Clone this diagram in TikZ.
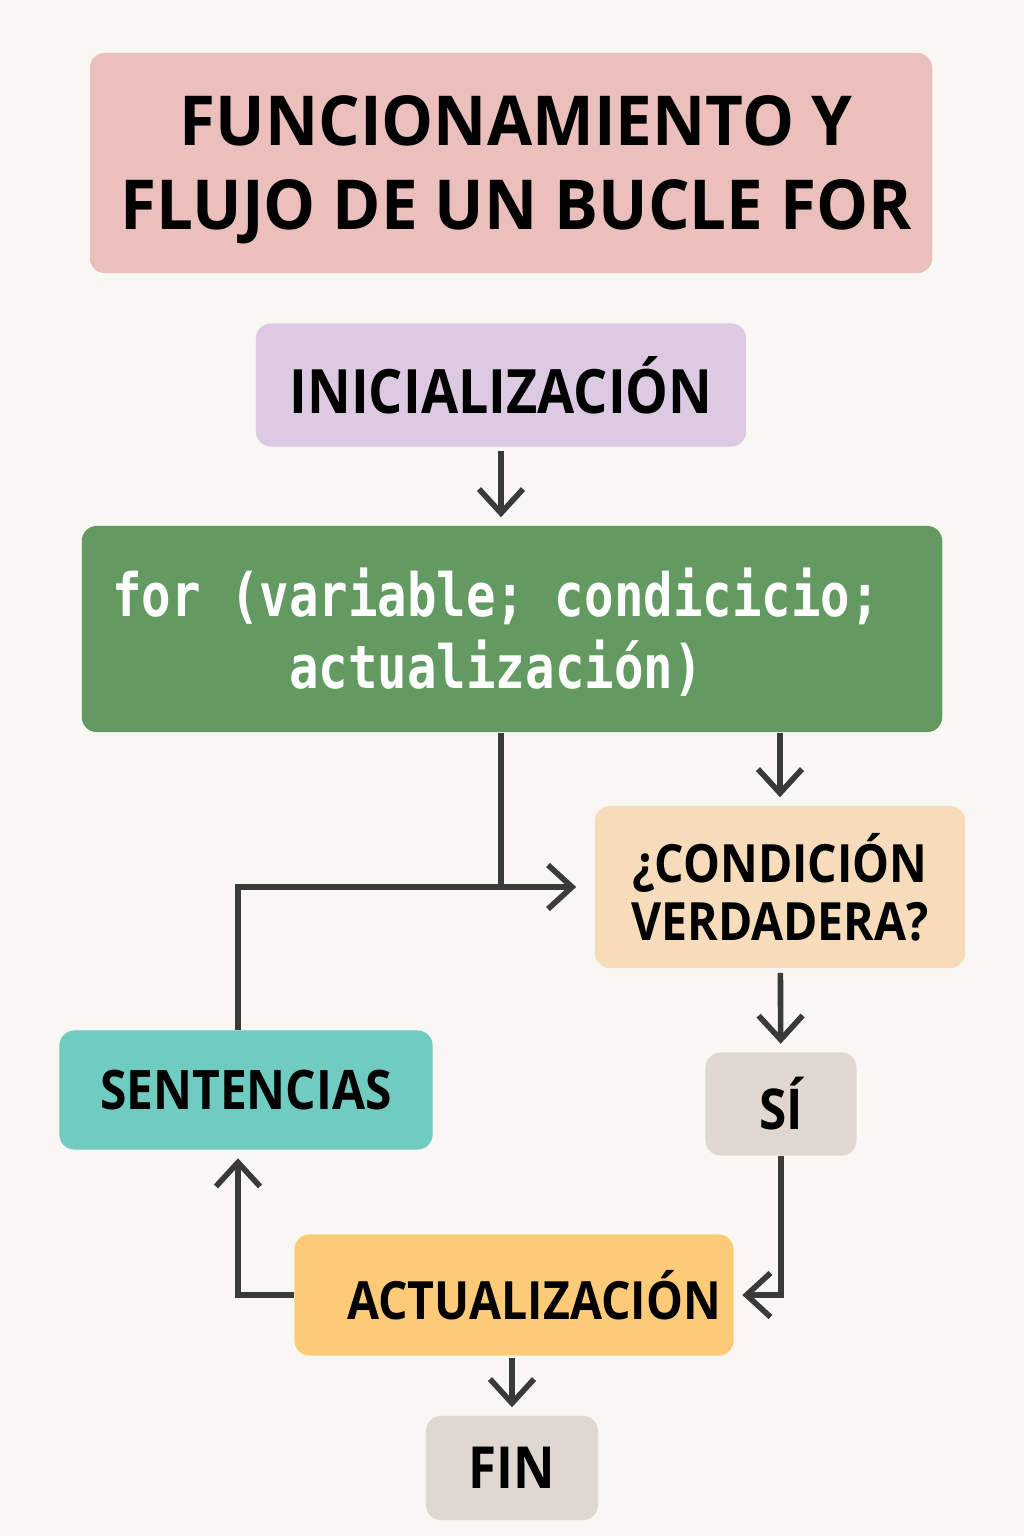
\documentclass[tikz,border=0pt]{standalone}
\usepackage{fontspec}
\setmainfont{Open Sans}
\newfontfamily\headfont[FakeStretch=0.95]{Open Sans}
\newfontfamily\stepfont[FakeStretch=0.88]{Open Sans}
\newfontfamily\codefont[FakeStretch=0.82]{DejaVu Sans Mono}
\usetikzlibrary{positioning,arrows.meta}
\definecolor{forpaper}{HTML}{F9F7F3}
\definecolor{forink}{HTML}{3A3A3A}
\definecolor{fortitle}{HTML}{EBBFBC}
\definecolor{forinit}{HTML}{DCC9E2}
\definecolor{forgreen}{HTML}{639A62}
\definecolor{forcond}{HTML}{F6DCBB}
\definecolor{forsent}{HTML}{70CBC0}
\definecolor{forsi}{HTML}{E0D8D0}
\definecolor{foract}{HTML}{FDCA78}
\definecolor{forfin}{HTML}{DFD7D2}
\tikzset{
  box/.style    ={rounded corners=1.5mm, inner sep=0pt, align=center, text=black},
  titlebox/.style={box, fill=fortitle, font=\headfont\fontsize{19.6}{23.9}\selectfont\bfseries},
  stepbox/.style={box, font=\stepfont\fontsize{15}{16.5}\selectfont\bfseries},
  codebox/.style={box, fill=forgreen, text=white,
                  font=\codefont\fontsize{17}{20.5}\selectfont\bfseries},
  wire/.style   ={draw=forink, line width=1.6pt},
  flow/.style   ={wire, -{Straight Barb[length=2.4mm, width=4.4mm, line width=1.6pt]},
                  shorten >=0.8mm},
}
\begin{document}
\begin{tikzpicture}[x=0.01cm, y=-0.01cm]
  \fill[forpaper] (0,0) rectangle (1024,1536);
  \useasboundingbox (0,0) rectangle (1024,1536);

  % boxes
  \node[titlebox, minimum width=8.42cm, minimum height=2.2cm] (title) at (511,163) {};
  \node[titlebox, fill=none] (titletext) at (516,170) {FUNCIONAMIENTO Y\\FLUJO DE UN BUCLE FOR};
  \node[stepbox, fill=forinit, minimum width=4.9cm, minimum height=1.23cm,
        font=\stepfont\fontsize{17.4}{20}\selectfont\bfseries] (init) at (501,385) {INICIALIZACIÓN};
  \node[codebox, minimum width=8.6cm, minimum height=2.06cm] (forbox) at (512,629) {};
  \node[codebox, fill=none] (fortext) at (496,632) {for (variable; condicicio;\\actualización)};
  \node[stepbox, fill=forcond, minimum width=3.7cm, minimum height=1.62cm] (cond) at (780,887)
    {¿CONDICIÓN\\VERDADERA?};
  \node[stepbox, fill=forsent, minimum width=3.73cm, minimum height=1.19cm,
        font=\stepfont\fontsize{15.5}{17}\selectfont\bfseries] (sent) at (246,1090) {SENTENCIAS};
  \node[stepbox, fill=forsi, minimum width=1.51cm, minimum height=1.03cm,
        font=\stepfont\fontsize{16}{17}\selectfont\bfseries] (si) at (781,1104) {SÍ};
  \node[stepbox, fill=foract, minimum width=4.39cm, minimum height=1.21cm] (act) at (514,1295)
    {\hspace*{4mm}ACTUALIZACIÓN};
  \node[stepbox, fill=forfin, minimum width=1.72cm, minimum height=1.04cm,
        font=\stepfont\fontsize{16.5}{18}\selectfont\bfseries] (fin) at (512,1468) {FIN};

  % connectors
  \draw[flow, shorten <=0.4mm] (init.south) -- (init.south |- forbox.north);
  \draw[flow] (forbox.south -| cond.north) -- (cond.north);
  \draw[wire] ([xshift=-1.1mm]forbox.south) -- ([xshift=-1.1mm]forbox.south |- cond.west);
  \draw[flow] ([xshift=-0.8mm]sent.north) |- ([xshift=-1mm]cond.west);
  \draw[flow, shorten <=0.4mm] (cond) -- (si);
  \draw[flow] (si.south) |- (act.east);
  \draw[flow] (act.west) -| ([xshift=-0.8mm]sent.south);
  \draw[flow, shorten <=0.2mm] (act.south -| fin.north) -- (fin.north);
\end{tikzpicture}
\end{document}
